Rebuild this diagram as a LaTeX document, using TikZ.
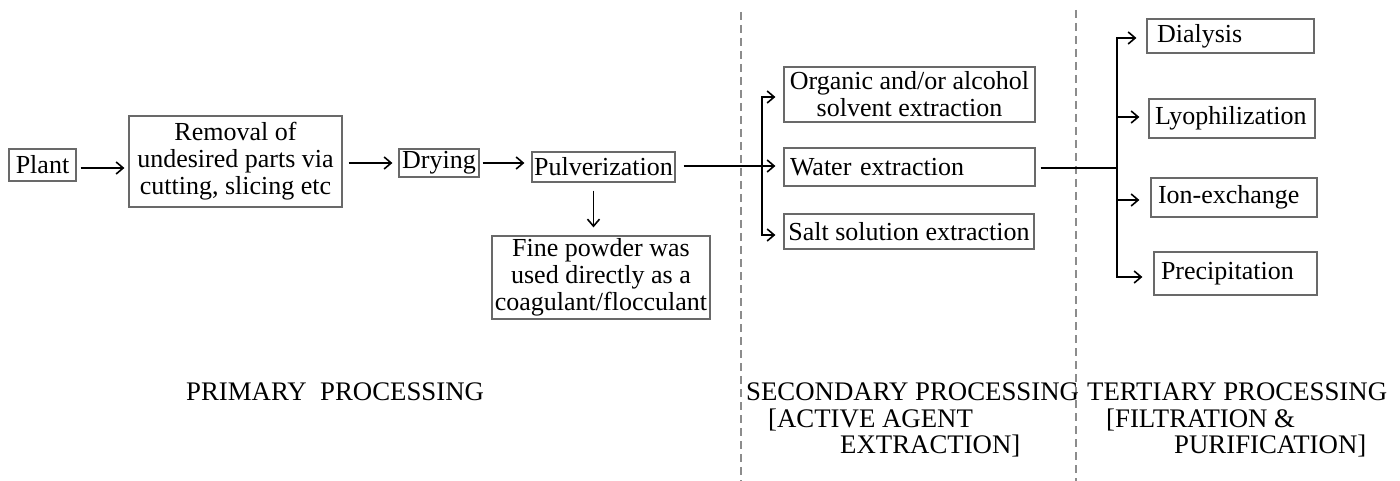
\documentclass[tikz,border=0pt]{standalone}
\usepackage{fontspec}
\setmainfont{Liberation Serif}
\usetikzlibrary{arrows.meta}
\definecolor{boxgray}{RGB}{105,105,105}
\definecolor{sepgray}{RGB}{140,140,140}
\begin{document}
\begin{tikzpicture}[x=1pt,y=1pt,
  font=\fontsize{26}{27}\selectfont,
  box/.style={draw=boxgray, line width=1.2pt, inner sep=0pt, align=center},
  lbox/.style={draw=boxgray, line width=1.2pt, inner ysep=0pt, align=left},
  ln/.style={line width=1.6pt},
  arr/.style={line width=1.6pt, -{Straight Barb[length=7pt,width=12pt,line width=1.6pt]}},
  sep/.style={draw=sepgray, line width=1.1pt, dash pattern=on 8pt off 5pt},
  lab/.style={anchor=base west, inner sep=0pt, font=\fontsize{26.8}{27}\selectfont}]
\useasboundingbox (0,0) rectangle (1400,-481);

% separators
\draw[sep] (741,-12) -- (741,-481);
\draw[sep] (1076,-10) -- (1076,-481);

% primary
\node[box, minimum width=67, minimum height=32] (plant) at (42.5,-165) {Plant};
\node[box, minimum width=213, minimum height=91] (removal) at (235.5,-161.5) {Removal of\\undesired parts via\\cutting, slicing etc};
\node[box, minimum width=80, minimum height=28] (drying) at (439,-163) {Drying};
\node[box, minimum width=143, minimum height=30] (pulv) at (603.5,-167) {Pulverization};
\node[box, minimum width=218, minimum height=83] (fine) at (601,-277.5) {Fine powder was\\used directly as a\\coagulant/flocculant};

% secondary
\node[box, minimum width=251, minimum height=55] (organic) at (909.5,-94.5) {Organic and/or alcohol\\solvent extraction};
\node[lbox, text width=239, inner xsep=6, minimum height=38] (water) at (909.5,-167) {Water extraction};
\node[box, minimum width=250, minimum height=35] (salt) at (909,-231.5) {Salt solution extraction};

% tertiary
\node[lbox, text width=147, inner xsep=10, minimum height=34] (dial) at (1230.5,-36) {Dialysis};
\node[lbox, text width=154, inner xsep=6, minimum height=39] (lyo) at (1232,-118.5) {Lyophilization};
\node[lbox, text width=152, inner xsep=7, minimum height=39] (ion) at (1234,-197.5) {Ion-exchange};
\node[lbox, text width=149, inner xsep=7, minimum height=43] (prec) at (1235.5,-273.5) {Precipitation};

% primary connectors
\draw[arr, shorten <=4pt, shorten >=4pt] ([yshift=-3]plant.east) -- ([yshift=-3]plant.east -| removal.west);
\draw[arr, shorten <=6pt, shorten >=6pt] (removal.east |- drying.west) -- (drying.west);
\draw[arr, shorten <=3pt, shorten >=7pt] (drying.east) -- (drying.east -| pulv.west);
\draw[arr, shorten <=8pt, shorten >=8pt] ([xshift=-10]pulv.south) -- ([xshift=-10]pulv.south |- fine.north);

% secondary connectors
\coordinate (j1) at (762,-166);
\coordinate (j1t) at (762,-97);
\coordinate (j1b) at (762,-235);
\draw[ln, shorten <=8pt] (pulv.east |- j1) -- (j1);
\draw[arr, shorten >=8pt] (j1) -- (j1t) -- (j1t -| organic.west);
\draw[arr, shorten >=8pt] (j1) -- (j1b) -- (j1b -| salt.west);
\draw[arr, shorten >=8pt] (j1) -- (j1 -| water.west);

% tertiary connectors
\coordinate (j2) at (1117,-168);
\coordinate (j2a) at (1117,-38);
\coordinate (j2b) at (1117,-117);
\coordinate (j2c) at (1117,-200);
\coordinate (j2d) at (1117,-277);
\draw[ln, shorten <=5pt] (water.east |- j2) -- (j2);
\draw[arr, shorten >=10pt] (j2) -- (j2a) -- (j2a -| dial.west);
\draw[arr, shorten >=11pt] (j2) -- (j2d) -- (j2d -| prec.west);
\draw[arr, shorten >=9pt] (j2b) -- (j2b -| lyo.west);
\draw[arr, shorten >=11pt] (j2c) -- (j2c -| ion.west);

% stage labels
\node[lab] (p1) at (186,-400) {PRIMARY\ \ PROCESSING};
\node[lab] (s1) at (746,-400) {SECONDARY PROCESSING};
\node[lab] (s2) at (768,-427) {[ACTIVE AGENT};
\node[lab] (s3) at (840,-453) {EXTRACTION]};
\node[lab] (t1) at (1087,-400) {TERTIARY PROCESSING};
\node[lab] (t2) at (1106,-427) {[FILTRATION \&};
\node[lab] (t3) at (1174,-453) {PURIFICATION]};
\end{tikzpicture}
\end{document}
